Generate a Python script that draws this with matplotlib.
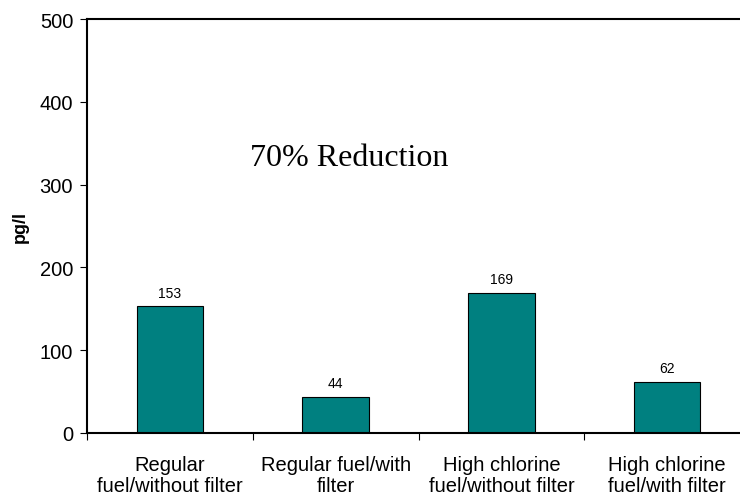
import matplotlib.pyplot as plt
import numpy as np

categories = ["Regular\nfuel/without filter", "Regular fuel/with\nfilter",
              "High chlorine\nfuel/without filter", "High chlorine\nfuel/with filter"]
values = [153, 44, 169, 62]
yticks = [0, 100, 200, 300, 400, 500]

plt.rcParams['font.family'] = ['Liberation Sans', 'DejaVu Sans']

fig = plt.figure(figsize=(7.4, 5.02), dpi=100)
ax = fig.add_axes([0.1176, 0.1355, 0.8959, 0.8245])

x = np.arange(len(values))
ax.bar(x, values, width=0.4, color='#008080', edgecolor='black', linewidth=0.8)
for xi, v in zip(x, values):
    ax.text(xi, v + 8, str(v), ha='center', va='bottom', fontsize=10)

ax.set_xlim(-0.5, len(values) - 0.5)
ax.set_ylim(0, 500)
ax.set_yticks(yticks)
ax.tick_params(axis='y', labelsize=14.5, length=5, direction='out', pad=5)

ax.set_xticks(np.arange(len(values) + 1) - 0.5)
ax.set_xticklabels([])
ax.tick_params(axis='x', which='major', length=5, direction='out')
ax.set_xticks(x, minor=True)
ax.set_xticklabels(categories, minor=True, fontsize=14.5, linespacing=1.15)
ax.tick_params(axis='x', which='minor', length=0, pad=16)

for s in ['left', 'top', 'bottom']:
    ax.spines[s].set_linewidth(1.5)
ax.spines['right'].set_visible(False)

ax.set_ylabel("pg/l", fontsize=13, fontweight='bold', labelpad=8)
ax.text(1.08, 333, "70% Reduction", ha='center', va='center', fontsize=23,
        family='Liberation Serif')

fig.savefig("out.png", dpi=100)
